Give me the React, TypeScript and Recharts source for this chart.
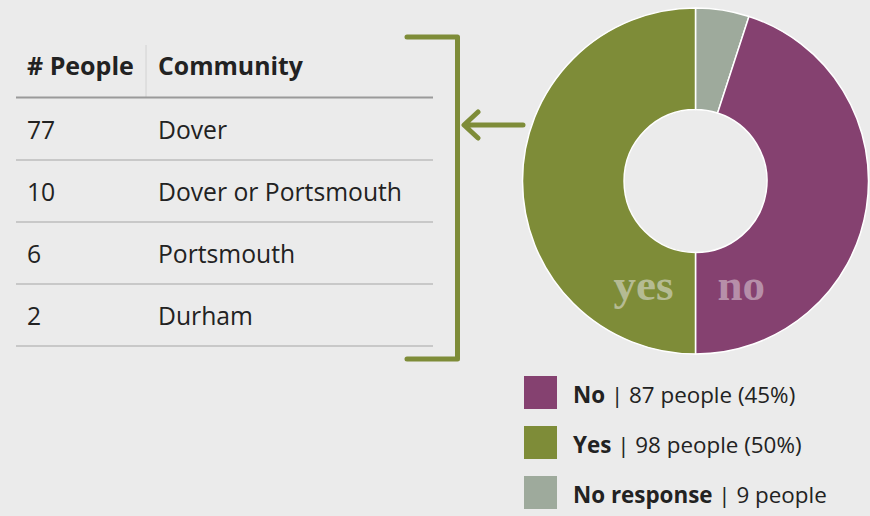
import React from "react";
import { PieChart, Pie, Cell } from "recharts";

// Donut slices (share of responses, %), clockwise from 12 o'clock
const sliceNames = ["No response", "No", "Yes"];
const sliceShares = [5, 45, 50];
const sliceColors = ["#9eaa9c", "#854170", "#7e8c38"];
const sliceLabels = ["", "no", "yes"];
const sliceLabelColors = ["", "#b68fa9", "#b5bb93"];

// Legend
const legendNames = ["No", "Yes", "No response"];
const legendPeople = [87, 98, 9];
const legendPercents = ["45%", "50%", ""];
const legendColors = ["#854170", "#7e8c38", "#9eaa9c"];

// Table
const tableHeaders = ["# People", "Community"];
const peopleCounts = [77, 10, 6, 2];
const communities = ["Dover", "Dover or Portsmouth", "Portsmouth", "Durham"];

const pieData = sliceNames.map((name, i) => ({ name, value: sliceShares[i] }));

const FONT = "'Open Sans', 'Noto Sans', sans-serif";
const OLIVE = "#7e8c38";

const renderLabel = (props: any) => {
  const { cx, cy, index } = props;
  const t = sliceLabels[index];
  if (!t) return null;
  const isYes = t === "yes";
  return (
    <text
      x={isYes ? cx - 22 : cx + 22}
      y={cy + 119}
      textAnchor={isYes ? "end" : "start"}
      fill={sliceLabelColors[index]}
      fontFamily="'Liberation Serif', 'DejaVu Serif', serif"
      fontWeight="bold"
      fontSize={45}
    >
      {t}
    </text>
  );
};

export default function App() {
  return (
    <div
      style={{
        position: "absolute",
        left: 0,
        top: 0,
        width: 870,
        height: 516,
        background: "#ebebeb",
        overflow: "hidden",
      }}
    >
      <div style={{ position: "absolute", left: 0, top: 0 }}>
        <PieChart width={870} height={516} margin={{ top: 0, right: 0, bottom: 0, left: 0 }}>
          <Pie
            data={pieData}
            dataKey="value"
            nameKey="name"
            cx={695.5}
            cy={181}
            outerRadius={173}
            innerRadius={71.5}
            startAngle={90}
            endAngle={-270}
            stroke="#ffffff"
            strokeWidth={1.5}
            label={renderLabel}
            labelLine={false}
            isAnimationActive={false}
          >
            {pieData.map((d, i) => (
              <Cell key={d.name} fill={sliceColors[i]} />
            ))}
          </Pie>
        </PieChart>
      </div>
      <svg
        width={870}
        height={516}
        style={{ position: "absolute", left: 0, top: 0, pointerEvents: "none" }}
      >
        {/* table header */}
        <text x={27} y={75} fontFamily={FONT} fontWeight="bold" fontSize={25} fill="#222">
          {tableHeaders[0]}
        </text>
        <text x={158} y={75} fontFamily={FONT} fontWeight="bold" fontSize={24.8} fill="#222">
          {tableHeaders[1]}
        </text>
        <line x1={146} y1={45} x2={146} y2={97} stroke="#d2d2d2" strokeWidth={1} />
        <line x1={16} y1={97.5} x2={433} y2={97.5} stroke="#9a9a9a" strokeWidth={2} />
        {peopleCounts.map((n, i) => (
          <g key={i}>
            <text x={27} y={139 + i * 62} fontFamily={FONT} fontSize={24.7} fill="#222">
              {n}
            </text>
            <text x={158} y={139 + i * 62} fontFamily={FONT} fontSize={24.7} fill="#222">
              {communities[i]}
            </text>
            <line
              x1={16}
              y1={160 + i * 62}
              x2={433}
              y2={160 + i * 62}
              stroke="#bdbdbd"
              strokeWidth={1.5}
            />
          </g>
        ))}
        {/* bracket */}
        <path
          d="M407,37 H457.5 V359 H407"
          fill="none"
          stroke={OLIVE}
          strokeWidth={5}
          strokeLinecap="round"
          strokeLinejoin="round"
        />
        {/* arrow */}
        <path
          d="M523,125 H465 M478,112 L464,125 L478,138"
          fill="none"
          stroke={OLIVE}
          strokeWidth={5}
          strokeLinecap="round"
          strokeLinejoin="round"
        />
        {/* legend */}
        {legendNames.map((name, i) => (
          <g key={name}>
            <rect x={524} y={376 + i * 50} width={33} height={33} fill={legendColors[i]} />
            <text x={573} y={403 + i * 50} fontFamily={FONT} fontSize={22.4} fill="#222">
              <tspan fontWeight="bold">{name}</tspan>
              <tspan>{` | ${legendPeople[i]} people${legendPercents[i] ? ` (${legendPercents[i]})` : ""}`}</tspan>
            </text>
          </g>
        ))}
      </svg>
    </div>
  );
}
